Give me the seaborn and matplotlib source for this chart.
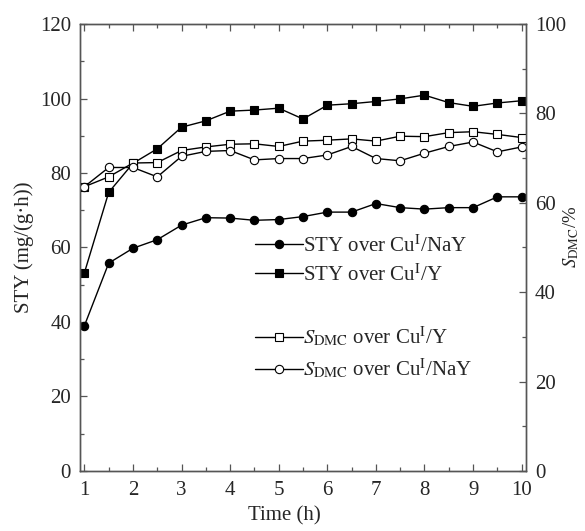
import matplotlib
matplotlib.use("Agg")
import matplotlib.pyplot as plt
import seaborn as sns
import pandas as pd
from matplotlib.ticker import MultipleLocator

time_h = [1, 1.5, 2, 2.5, 3, 3.5, 4, 4.5, 5, 5.5, 6, 6.5, 7, 7.5, 8, 8.5, 9, 9.5, 10]
sty_cu_nay = [39.0, 55.8, 59.8, 62.1, 66.0, 68.0, 67.9, 67.3, 67.5, 68.3, 69.5, 69.5, 71.8, 70.7, 70.3, 70.7, 70.7, 73.6, 73.6]
sty_cu_y = [53.2, 74.8, 82.6, 86.5, 92.3, 94.0, 96.6, 96.9, 97.4, 94.5, 98.2, 98.6, 99.2, 99.9, 100.9, 98.9, 97.9, 98.8, 99.4]
sdmc_cu_y = [63.6, 65.8, 68.9, 69.0, 71.7, 72.5, 73.1, 73.2, 72.6, 73.8, 74.0, 74.3, 73.8, 74.9, 74.8, 75.7, 75.9, 75.3, 74.6]
sdmc_cu_nay = [63.6, 67.9, 67.9, 65.8, 70.4, 71.5, 71.7, 69.6, 69.9, 69.9, 70.7, 72.6, 69.9, 69.4, 71.1, 72.6, 73.6, 71.4, 72.5]

sns.set_theme(style="ticks")
plt.rcParams["font.family"] = ["Liberation Serif", "DejaVu Serif"]
plt.rcParams["mathtext.fontset"] = "stix"
plt.rcParams["xtick.direction"] = "in"
plt.rcParams["ytick.direction"] = "in"

df = pd.DataFrame({"t": time_h, "a": sty_cu_nay, "b": sty_cu_y, "c": sdmc_cu_y, "d": sdmc_cu_nay})

fig = plt.figure(figsize=(5.85, 5.31), dpi=100)
ax = fig.add_axes([0.1368, 0.1130, 0.7624, 0.8418])
ax2 = ax.twinx()

ms = 6.0
kw = dict(color="black", linewidth=1.0, markersize=ms, markeredgecolor="black", markeredgewidth=0.8)
sns.lineplot(data=df, x="t", y="a", ax=ax, marker="o", markerfacecolor="black", label="STY over Cu$^{\\mathrm{I}}$/NaY", **kw)
sns.lineplot(data=df, x="t", y="b", ax=ax, marker="s", markerfacecolor="black", label="STY over Cu$^{\\mathrm{I}}$/Y", **kw)
sns.lineplot(data=df, x="t", y="c", ax=ax2, marker="s", markerfacecolor="white", label="$S_{\\mathrm{DMC}}$ over Cu$^{\\mathrm{I}}$/Y", **kw)
sns.lineplot(data=df, x="t", y="d", ax=ax2, marker="o", markerfacecolor="white", label="$S_{\\mathrm{DMC}}$ over Cu$^{\\mathrm{I}}$/NaY", **kw)

ax.set_xlim(0.91, 10.09)
ax.set_ylim(0, 120)
ax2.set_ylim(0, 100)
ax.xaxis.set_major_locator(MultipleLocator(1))
ax.xaxis.set_minor_locator(MultipleLocator(0.5))
ax.yaxis.set_major_locator(MultipleLocator(20))
ax.yaxis.set_minor_locator(MultipleLocator(10))
ax2.yaxis.set_major_locator(MultipleLocator(20))
ax2.yaxis.set_minor_locator(MultipleLocator(10))

fs = 15
ax.tick_params(axis="both", which="major", length=5, width=0.9, labelsize=fs, color="#555555", top=True, pad=6.5)
ax.tick_params(axis="both", which="minor", length=3, width=0.9, color="#555555", top=True)
ax.tick_params(axis="x", which="major", pad=7.5)
ax.tick_params(axis="y", right=False, which="both")
ax2.tick_params(axis="y", which="major", length=5, width=0.9, labelsize=fs, color="#555555", pad=6.5)
ax2.tick_params(axis="y", which="minor", length=3, width=0.9, color="#555555")
for a in (ax, ax2):
    for s in a.spines.values():
        s.set_color("#555555")
        s.set_linewidth(1.0)
        s.set_visible(True)

ax.set_xlabel("Time (h)", fontsize=15)
ax.xaxis.set_label_coords(0.4585, -0.078)
ax.set_ylabel("STY (mg/(g·h))", fontsize=15, labelpad=4)
ax2.set_ylabel("$S_{\\mathrm{DMC}}$/%", fontsize=13.5, rotation=90)
ax2.yaxis.set_label_coords(1.078, 0.523)

h1, l1 = ax.get_legend_handles_labels()
h2, l2 = ax2.get_legend_handles_labels()
if ax.get_legend():
    ax.get_legend().remove()
lfs = 15
leg1 = ax2.legend(h1, l1, loc="upper left", bbox_to_anchor=(0.421, 0.5725), bbox_transform=fig.transFigure,
                  frameon=False, fontsize=lfs, handlelength=2.3, handletextpad=0.0, labelspacing=0.35, borderaxespad=0)
ax2.add_artist(leg1)
ax2.legend(h2, l2, loc="upper left", bbox_to_anchor=(0.421, 0.403), bbox_transform=fig.transFigure,
           frameon=False, fontsize=lfs, handlelength=2.3, handletextpad=0.0, labelspacing=0.35, borderaxespad=0)

fig.savefig("out.png", dpi=100)
